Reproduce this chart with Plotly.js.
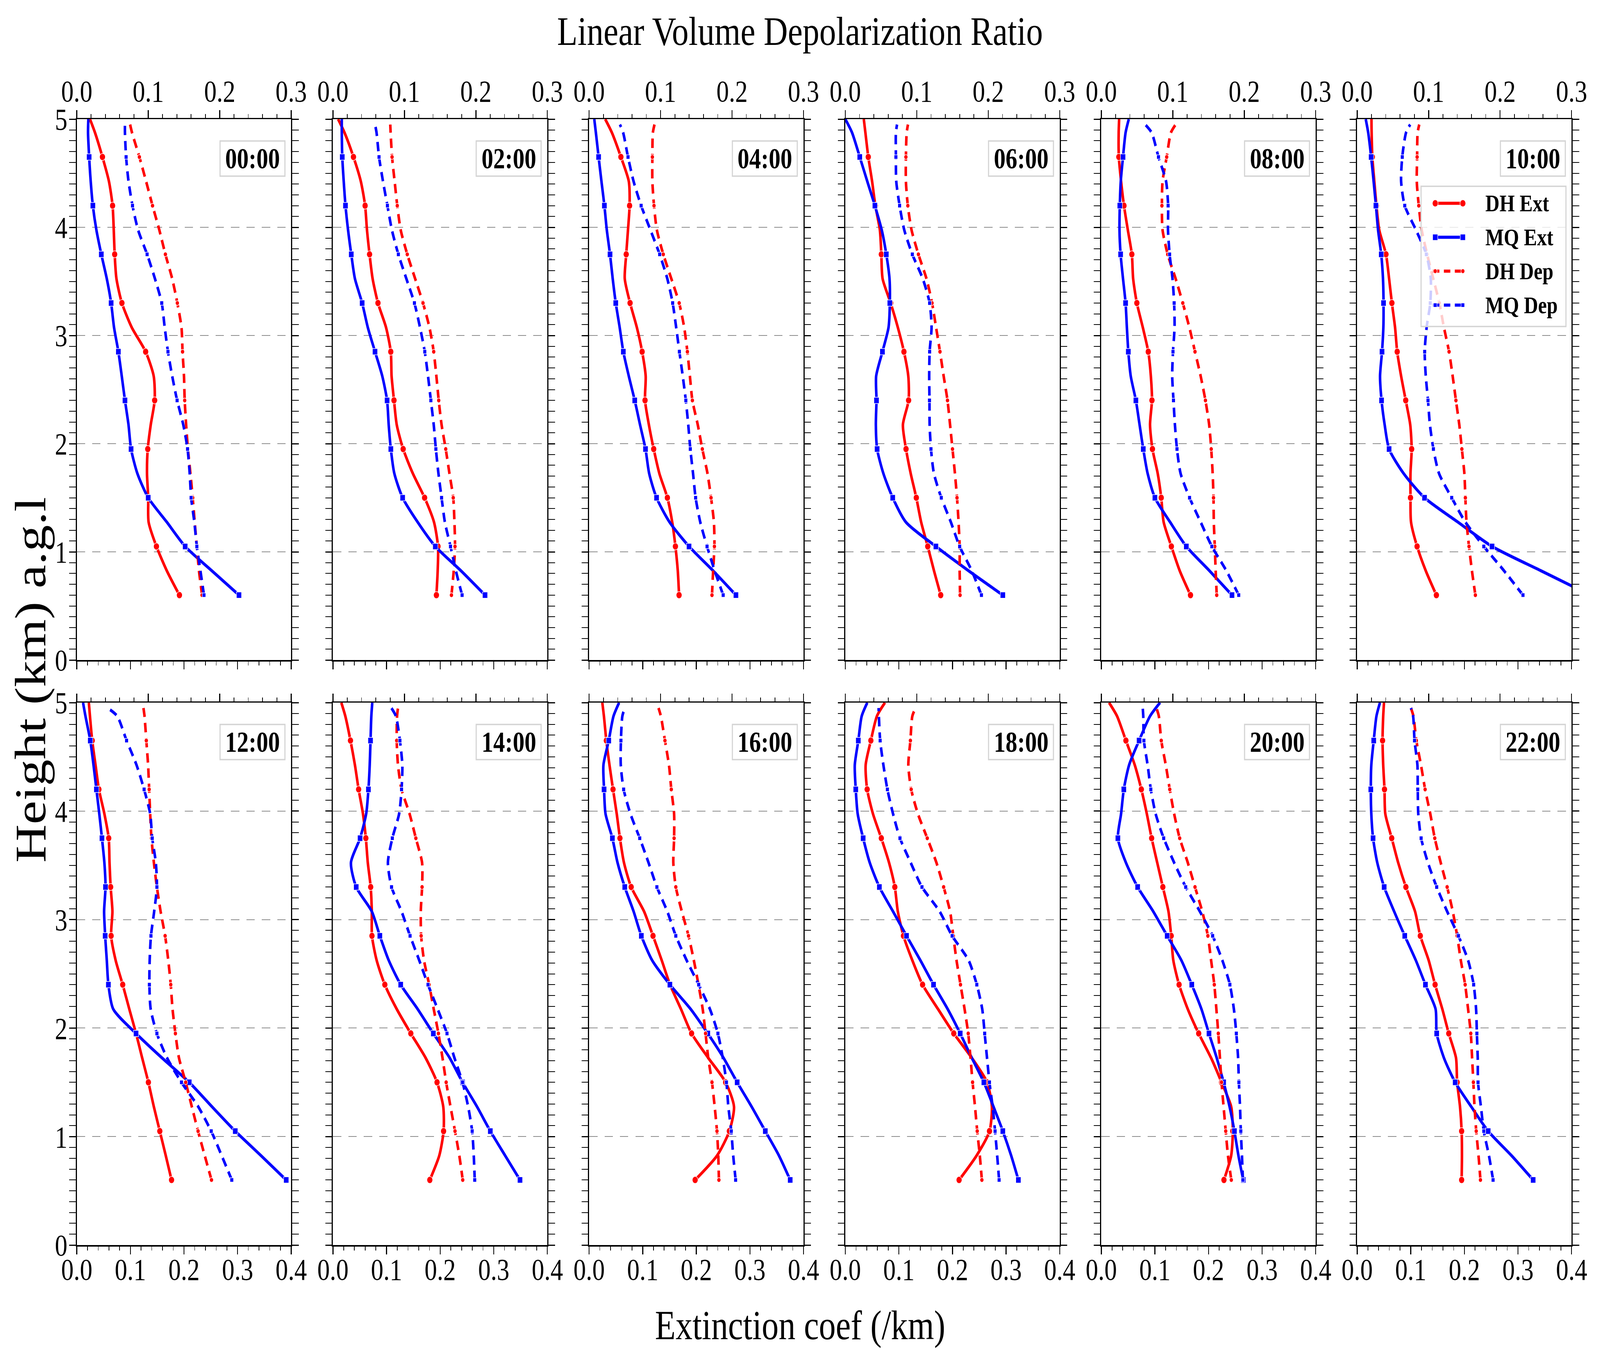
<!DOCTYPE html>
<html><head><meta charset="utf-8">
<script src="https://cdn.plot.ly/plotly-3.0.1.min.js"></script>
<style>html,body{margin:0;padding:0;background:#fff;overflow:hidden}#wrap{overflow:hidden;position:relative}#chart{width:4981px;height:3490px;transform-origin:0 0;position:absolute;left:0;top:0}</style>
</head><body><div id="wrap"><div id="chart"></div></div>
<script>
// ---------------- DATA ----------------
const times = ['00:00','02:00','04:00','06:00','08:00','10:00','12:00','14:00','16:00','18:00','20:00','22:00'];
const heightsExt = [0.6,0.825,1.05,1.275,1.5,1.725,1.95,2.175,2.4,2.625,2.85,3.075,3.3,3.525,3.75,3.975,4.2,4.425,4.65,4.875,5.0];
const heightsDep = [0.6,0.825,1.05,1.275,1.5,1.725,1.95,2.175,2.4,2.625,2.85,3.075,3.3,3.525,3.75,3.975,4.2,4.425,4.65,4.875,4.95];
const seriesNames = ['DH Ext','MQ Ext','DH Dep','MQ Dep'];

// DH extinction coefficient (/km), one row per time
const dhExt = [
 [0.1915,0.168,0.1486,0.134,0.1333,0.131,0.1324,0.138,0.1453,0.1435,0.1285,0.1025,0.0842,0.074,0.0707,0.069,0.0668,0.060,0.0479,0.034,0.0246],
 [0.193,0.1954,0.196,0.1885,0.171,0.149,0.131,0.119,0.1139,0.1094,0.1079,0.099,0.084,0.074,0.0683,0.0635,0.060,0.052,0.0383,0.0216,0.0096],
 [0.1678,0.1654,0.161,0.155,0.146,0.131,0.1205,0.1115,0.1043,0.1055,0.0989,0.089,0.0764,0.0665,0.0692,0.0725,0.0755,0.074,0.0593,0.0425,0.030],
 [0.178,0.1655,0.1538,0.1415,0.1325,0.122,0.1133,0.1075,0.1181,0.1175,0.1094,0.098,0.0846,0.0696,0.0672,0.0645,0.0561,0.050,0.0429,0.0375,0.0345],
 [0.1664,0.1463,0.1307,0.1163,0.1118,0.1052,0.0954,0.0909,0.0945,0.0924,0.0876,0.0774,0.0663,0.0594,0.057,0.0495,0.0423,0.0369,0.0327,0.0324,0.0333],
 [0.1478,0.128,0.1118,0.1005,0.0995,0.0995,0.1017,0.099,0.0906,0.082,0.0747,0.0707,0.0648,0.0596,0.0538,0.0412,0.036,0.032,0.0283,0.027,0.0267],
 [0.1768,0.166,0.1549,0.1438,0.1336,0.122,0.1106,0.098,0.0857,0.0725,0.0641,0.0665,0.0632,0.0611,0.0596,0.0515,0.0413,0.035,0.0288,0.0246,0.0225],
 [0.1807,0.1984,0.2064,0.2058,0.1942,0.1729,0.1453,0.119,0.0968,0.0815,0.0728,0.0725,0.0704,0.065,0.0614,0.056,0.0479,0.041,0.0327,0.0231,0.0156],
 [0.1978,0.2388,0.2616,0.2703,0.2547,0.2223,0.1912,0.1714,0.151,0.1354,0.1192,0.1025,0.0785,0.065,0.0575,0.0515,0.0446,0.038,0.0321,0.0276,0.0246],
 [0.2123,0.245,0.269,0.2735,0.2645,0.236,0.2024,0.173,0.1442,0.125,0.1085,0.098,0.0924,0.0816,0.0672,0.0516,0.0408,0.038,0.0477,0.059,0.0741],
 [0.2288,0.2423,0.2453,0.2423,0.2243,0.2048,0.1817,0.1613,0.1451,0.1343,0.1304,0.1253,0.1148,0.1043,0.0939,0.0849,0.0747,0.0624,0.0459,0.0294,0.0144],
 [0.1949,0.1955,0.1949,0.1919,0.1865,0.1844,0.1709,0.1589,0.1454,0.1334,0.1178,0.108,0.0909,0.0765,0.0645,0.0525,0.051,0.0486,0.0474,0.0486,0.0501]
];
// MQ extinction coefficient (/km)
const mqExt = [
 [0.3026,0.252,0.2022,0.168,0.1333,0.113,0.1013,0.0965,0.0899,0.0839,0.0776,0.0695,0.0641,0.056,0.0458,0.0366,0.030,0.026,0.0231,0.021,0.0216],
 [0.2837,0.2388,0.191,0.158,0.130,0.1145,0.108,0.104,0.101,0.092,0.0785,0.065,0.0545,0.041,0.0342,0.0282,0.0234,0.0201,0.0174,0.0165,0.0165],
 [0.2739,0.2313,0.1864,0.150,0.1258,0.112,0.1052,0.095,0.0851,0.074,0.0638,0.057,0.0497,0.044,0.039,0.033,0.0285,0.023,0.0177,0.0126,0.0096],
 [0.2939,0.230,0.169,0.113,0.0885,0.071,0.0594,0.057,0.0582,0.0576,0.0693,0.0807,0.0831,0.0825,0.0765,0.068,0.0552,0.041,0.027,0.0126,0.0],
 [0.2438,0.2018,0.1586,0.1283,0.100,0.0864,0.0783,0.0714,0.0645,0.0549,0.0504,0.0477,0.0453,0.0405,0.036,0.0339,0.0345,0.0363,0.0405,0.0453,0.0513],
 [0.435,0.343,0.2516,0.188,0.1257,0.0866,0.0596,0.0513,0.0455,0.0427,0.0464,0.0489,0.0492,0.0482,0.0449,0.039,0.035,0.0307,0.0261,0.0206,0.016],
 [0.3907,0.3436,0.2957,0.2523,0.2098,0.159,0.1106,0.068,0.059,0.056,0.053,0.051,0.0536,0.0515,0.047,0.042,0.0366,0.0312,0.0252,0.0162,0.0117],
 [0.349,0.3212,0.2936,0.2688,0.2418,0.2178,0.1873,0.158,0.1264,0.104,0.0875,0.0725,0.0434,0.0336,0.0506,0.062,0.0662,0.0686,0.0701,0.0716,0.0734],
 [0.3751,0.3541,0.3287,0.3032,0.2762,0.2508,0.2214,0.1894,0.1507,0.1175,0.0974,0.083,0.0665,0.053,0.0434,0.0306,0.0279,0.0267,0.0366,0.0455,0.056],
 [0.3229,0.3094,0.2939,0.2765,0.2585,0.236,0.2144,0.191,0.1646,0.140,0.1142,0.089,0.0636,0.0456,0.0333,0.0231,0.0195,0.0177,0.0243,0.0306,0.0411],
 [0.2648,0.2558,0.2483,0.2393,0.2282,0.2153,0.2009,0.1868,0.1688,0.1493,0.1229,0.0969,0.0678,0.0459,0.0309,0.0369,0.042,0.0519,0.0705,0.0909,0.1097],
 [0.3283,0.2879,0.2444,0.2129,0.1829,0.1619,0.1484,0.1463,0.1274,0.1094,0.0888,0.069,0.0504,0.0375,0.0297,0.0264,0.0255,0.0264,0.0309,0.036,0.0426]
];
// DH linear volume depolarization ratio
const dhDep = [
 [0.1753,0.171,0.168,0.165,0.1622,0.159,0.1555,0.153,0.151,0.150,0.148,0.1465,0.1407,0.1335,0.124,0.1155,0.106,0.097,0.0876,0.0773,0.0746],
 [0.1658,0.169,0.1708,0.170,0.1683,0.163,0.1578,0.152,0.148,0.1447,0.141,0.135,0.126,0.115,0.104,0.0948,0.090,0.0863,0.0827,0.0807,0.0802],
 [0.1719,0.1735,0.1753,0.1746,0.1706,0.1656,0.1584,0.152,0.1445,0.141,0.1375,0.133,0.126,0.115,0.1038,0.0948,0.0908,0.0885,0.0885,0.0892,0.0915],
 [0.1606,0.160,0.160,0.1585,0.1563,0.1534,0.150,0.1466,0.143,0.1376,0.1325,0.127,0.1214,0.1136,0.1023,0.0927,0.0875,0.0848,0.0848,0.0859,0.0877],
 [0.1615,0.160,0.1588,0.1574,0.157,0.1558,0.1538,0.1509,0.1457,0.139,0.1311,0.1232,0.114,0.104,0.0929,0.0857,0.0848,0.0857,0.0915,0.0974,0.104],
 [0.1654,0.1606,0.1565,0.153,0.1514,0.150,0.1465,0.1429,0.1382,0.1336,0.1286,0.1214,0.115,0.1065,0.0979,0.0903,0.0862,0.0834,0.0839,0.0846,0.0869],
 [0.1885,0.179,0.1697,0.161,0.1524,0.143,0.138,0.134,0.1315,0.128,0.1236,0.1173,0.1121,0.1079,0.1045,0.1027,0.1013,0.0998,0.0973,0.0948,0.0933],
 [0.1816,0.1768,0.1708,0.1645,0.1584,0.1533,0.1476,0.141,0.1346,0.1274,0.1234,0.1229,0.1247,0.1247,0.116,0.1072,0.096,0.091,0.0892,0.0897,0.091],
 [0.1816,0.1807,0.1789,0.1757,0.1719,0.1667,0.1629,0.1589,0.153,0.1465,0.1391,0.1297,0.1213,0.1178,0.1189,0.1189,0.115,0.1117,0.1061,0.1004,0.0971],
 [0.1911,0.1882,0.1846,0.1815,0.1781,0.1752,0.172,0.1669,0.1612,0.1556,0.1511,0.1466,0.1376,0.1275,0.1147,0.1016,0.0922,0.0882,0.0911,0.0938,0.0983],
 [0.1819,0.1772,0.1741,0.1711,0.1682,0.166,0.1637,0.161,0.1581,0.1536,0.1491,0.1412,0.1311,0.121,0.1097,0.1019,0.0958,0.0902,0.0839,0.0805,0.0771],
 [0.1725,0.1698,0.1666,0.1642,0.1626,0.1608,0.159,0.1552,0.1511,0.145,0.1399,0.1338,0.1259,0.1169,0.1086,0.1023,0.0951,0.0893,0.0828,0.0787,0.0753]
];
// MQ linear volume depolarization ratio
const mqDep = [
 [0.178,0.173,0.168,0.1645,0.160,0.158,0.155,0.149,0.1404,0.1335,0.1276,0.123,0.1189,0.1094,0.0984,0.0858,0.078,0.0724,0.069,0.0674,0.0674],
 [0.1807,0.172,0.1645,0.1566,0.152,0.1476,0.144,0.141,0.137,0.133,0.1285,0.1218,0.114,0.1027,0.0915,0.0825,0.0762,0.070,0.0645,0.061,0.0589],
 [0.1876,0.1757,0.165,0.1555,0.149,0.1454,0.1416,0.1387,0.1353,0.131,0.1263,0.1218,0.1169,0.1094,0.0987,0.0858,0.0728,0.0622,0.0544,0.0476,0.0431],
 [0.1905,0.177,0.160,0.1477,0.1343,0.124,0.1199,0.118,0.1178,0.1174,0.118,0.1207,0.118,0.1084,0.0938,0.0825,0.076,0.0713,0.0708,0.0708,0.0724],
 [0.1923,0.175,0.1547,0.139,0.1235,0.1109,0.1059,0.103,0.101,0.0992,0.1003,0.1025,0.1019,0.0996,0.0956,0.0933,0.0935,0.0906,0.080,0.0704,0.0614],
 [0.232,0.2055,0.1772,0.1514,0.1323,0.1145,0.1067,0.1018,0.0991,0.096,0.0945,0.0972,0.1023,0.103,0.0968,0.0823,0.0666,0.0615,0.0631,0.0684,0.0742],
 [0.2169,0.2027,0.1881,0.170,0.1465,0.1263,0.1121,0.1034,0.1016,0.102,0.1038,0.1083,0.1121,0.1106,0.1056,0.1027,0.0942,0.0836,0.0697,0.0566,0.0431],
 [0.1984,0.197,0.1948,0.1892,0.1813,0.170,0.1596,0.1465,0.133,0.1207,0.1079,0.096,0.082,0.0769,0.0831,0.0926,0.096,0.0971,0.0937,0.0881,0.0818],
 [0.205,0.2016,0.1989,0.1948,0.1921,0.187,0.1802,0.169,0.1533,0.1364,0.1213,0.1094,0.0948,0.0831,0.0708,0.0578,0.0483,0.0443,0.0445,0.0465,0.0499],
 [0.2152,0.2125,0.2096,0.2062,0.2017,0.1983,0.195,0.1916,0.184,0.1725,0.1495,0.132,0.1073,0.0915,0.0765,0.0668,0.0589,0.0533,0.0488,0.047,0.0466],
 [0.1981,0.1968,0.1952,0.1941,0.1925,0.1914,0.1889,0.1855,0.1799,0.1693,0.1558,0.1379,0.1181,0.1019,0.0873,0.076,0.0693,0.0648,0.0596,0.0587,0.058],
 [0.1902,0.1844,0.1772,0.1732,0.1691,0.1687,0.1675,0.1664,0.163,0.1552,0.1417,0.1259,0.1113,0.099,0.0895,0.0855,0.0848,0.0843,0.0803,0.0783,0.0753]
];
const extTickVals = [0,0.1,0.2,0.3,0.4];
const extTickText = ['0.0','0.1','0.2','0.3','0.4'];
const depTickVals = [0,0.1,0.2,0.3];
const depTickText = ['0.0','0.1','0.2','0.3'];
const yTickVals = [0,1,2,3,4,5];
const yTickText = ['0','1','2','3','4','5'];

// ---------------- STYLE / LAYOUT ----------------
const W = 4981, H = 3490;
// map the 4981x3490 design onto the whole CSS viewport the window provides
const vw = document.documentElement.clientWidth || window.innerWidth || W;
const vh = document.documentElement.clientHeight || window.innerHeight || H;
const KX = vw / W, KY = vh / H;
const wrap = document.getElementById('wrap');
wrap.style.width = vw + 'px';
wrap.style.height = vh + 'px';
document.getElementById('chart').style.transform = 'scale(' + KX + ',' + KY + ')';

const FONT = 'Liberation Serif, Times New Roman, serif';
const RED = '#ff0000', BLUE = '#0000ff';
const colLeft = [239, 1036.5, 1834, 2631.5, 3428.5, 4225];
const panelW = 667.5;
const rowTop = [305, 1799], rowBot = [1690, 3188];
const DASH = '24px,15px';
const LW = 8;
const styles = [
  {color: RED, dash: 'solid', symbol: 'circle', size: 18},
  {color: BLUE, dash: 'solid', symbol: 'square', size: 16},
  {color: RED, dash: DASH, symbol: 'circle', size: 12},
  {color: BLUE, dash: DASH, symbol: 'square', size: 11}
];
const seriesData = [dhExt, mqExt, dhDep, mqDep];

const minorExt = []; for (let k = 0; k <= 20; k++) minorExt.push(+(k * 0.02).toFixed(3));
const minorDep = []; for (let k = 0; k <= 15; k++) minorDep.push(+(k * 0.02).toFixed(3));
const minorY = []; for (let k = 0; k <= 50; k++) minorY.push(+(k * 0.1).toFixed(2));

const traces = [];
const layout = {
  width: W, height: H,
  margin: {l: 0, r: 0, t: 0, b: 0},
  paper_bgcolor: '#ffffff', plot_bgcolor: '#ffffff',
  showlegend: false,
  font: {family: FONT, color: '#000'},
  title: {text: 'Linear Volume Depolarization Ratio', font: {family: FONT, size: 104, color: '#000'},
          x: 0.5, xanchor: 'center', xref: 'paper', y: 1 - 79 / H, yanchor: 'middle', yref: 'paper'},
  annotations: [], shapes: []
};

const axisCommon = {
  showline: true, linecolor: '#000', linewidth: 3.5,
  ticks: 'outside', ticklen: 20, tickwidth: 3, tickcolor: '#000',
  tickfont: {family: FONT, size: 78, color: '#000'},
  zeroline: false, fixedrange: true
};

for (let p = 0; p < 12; p++) {
  const row = Math.floor(p / 6), col = p % 6;
  const xb = 2 * p + 1, xt = 2 * p + 2, yi = p + 1;
  const xbName = 'xaxis' + (xb === 1 ? '' : xb), xtName = 'xaxis' + xt, yName = 'yaxis' + (yi === 1 ? '' : yi);
  const xbRef = 'x' + (xb === 1 ? '' : xb), xtRef = 'x' + xt, yRef = 'y' + (yi === 1 ? '' : yi);
  const dom = [colLeft[col] / W, (colLeft[col] + panelW) / W];
  const ydom = [1 - rowBot[row] / H, 1 - rowTop[row] / H];

  layout[xbName] = Object.assign({}, axisCommon, {
    domain: dom, range: [0, 0.4], anchor: yRef, side: 'bottom',
    tickmode: 'array', tickvals: extTickVals, ticktext: extTickText,
    showticklabels: row === 1, showgrid: false, ticklabelstandoff: -28,
    minor: {tickmode: 'array', tickvals: minorExt, ticks: 'outside', ticklen: 10, tickwidth: 2, tickcolor: '#000', showgrid: false}
  });
  layout[xtName] = Object.assign({}, axisCommon, {
    overlaying: xbRef, range: [0, 0.3], anchor: yRef, side: 'top',
    tickmode: 'array', tickvals: depTickVals, ticktext: depTickText,
    showticklabels: row === 0, showgrid: false, ticklabelstandoff: -10,
    minor: {tickmode: 'array', tickvals: minorDep, ticks: 'outside', ticklen: 10, tickwidth: 2, tickcolor: '#000', showgrid: false}
  });
  layout[yName] = Object.assign({}, axisCommon, {
    domain: ydom, range: [0, 5], anchor: xbRef, side: 'left', mirror: 'allticks',
    tickmode: 'array', tickvals: yTickVals, ticktext: yTickText,
    showticklabels: col === 0, ticklabelstandoff: -10,
    showgrid: true, gridcolor: '#8c8c8c', gridwidth: 2, griddash: '26px,22px',
    minor: {tickmode: 'array', tickvals: minorY, ticks: 'outside', ticklen: 10, tickwidth: 2, tickcolor: '#000', showgrid: false}
  });

  for (let s = 0; s < 4; s++) {
    const vals = seriesData[s][p];
    const hs = s < 2 ? heightsExt : heightsDep;
    const st = styles[s];
    const xr = s < 2 ? xbRef : xtRef;
    traces.push({
      x: vals, y: hs, xaxis: xr, yaxis: yRef, mode: 'lines', name: seriesNames[s],
      line: {color: st.color, width: LW, dash: st.dash, shape: 'spline', smoothing: 0.7},
      hoverinfo: 'skip', showlegend: false
    });
    const mx = [], my = [];
    for (let i = 0; i <= 18; i += 2) { mx.push(vals[i]); my.push(hs[i]); }
    traces.push({
      x: mx, y: my, xaxis: xr, yaxis: yRef, mode: 'markers', name: seriesNames[s],
      marker: {symbol: st.symbol, size: st.size, color: st.color, line: {color: '#ffffff', width: 1.5}},
      cliponaxis: true, hoverinfo: 'skip', showlegend: false
    });
  }

  // time label box
  const rowH = rowBot[row] - rowTop[row];
  layout.shapes.push({
    type: 'rect', xref: xbRef + ' domain', yref: yRef + ' domain',
    x0: 1 - (19.5 + 202) / panelW, x1: 1 - 19.5 / panelW,
    y0: 1 - 146 / rowH, y1: 1 - 56 / rowH,
    line: {color: '#d4d4d4', width: 3.5}, fillcolor: 'rgba(255,255,255,0.8)', layer: 'above'
  });
  layout.annotations.push({
    text: times[p], xref: xbRef + ' domain', yref: yRef + ' domain',
    x: 1 - (19.5 + 101) / panelW, y: 1 - 101 / rowH, xanchor: 'center', yanchor: 'middle',
    showarrow: false, font: {family: FONT, size: 73, weight: 'bold', color: '#000'}
  });
}

// axis titles
layout.annotations.push({
  text: 'Extinction coef (/km)', xref: 'paper', yref: 'paper', x: 2491 / W, y: 1 - 3393 / H,
  xanchor: 'center', yanchor: 'middle', showarrow: false, font: {family: FONT, size: 105, color: '#000'}
});
layout.annotations.push({
  text: 'Height (km) a.g.l', xref: 'paper', yref: 'paper', x: 95 / W, y: 1 - 1741 / H,
  xanchor: 'center', yanchor: 'middle', textangle: -90, showarrow: false,
  font: {family: FONT, size: 136, color: '#000'}
});

// legend (inside 10:00 panel)
const px = v => v / W, py = v => 1 - v / H;
layout.shapes.push({
  type: 'rect', xref: 'paper', yref: 'paper', x0: px(4424), x1: px(4875), y0: py(836), y1: py(477),
  line: {color: '#d4d4d4', width: 3.5}, fillcolor: 'rgba(255,255,255,0.8)', layer: 'above'
});
const legRows = [520.6, 607.5, 694.3, 781.2];
for (let s = 0; s < 4; s++) {
  const st = styles[s], yy = legRows[s];
  layout.shapes.push({
    type: 'line', xref: 'paper', yref: 'paper', x0: px(4461), x1: px(4561), y0: py(yy), y1: py(yy),
    line: {color: st.color, width: LW, dash: s < 2 ? 'solid' : '20px,14px'}, layer: 'above'
  });
  [4468, 4554].forEach(cx => {
    const r = st.size / 2;
    layout.shapes.push({
      type: st.symbol === 'circle' ? 'circle' : 'rect', xref: 'paper', yref: 'paper',
      x0: px(cx - r), x1: px(cx + r), y0: py(yy + r), y1: py(yy - r),
      fillcolor: st.color, line: {color: '#ffffff', width: 1.5}, layer: 'above'
    });
  });
  layout.annotations.push({
    text: seriesNames[s], xref: 'paper', yref: 'paper', x: px(4622), y: py(yy),
    xanchor: 'left', yanchor: 'middle', showarrow: false,
    font: {family: FONT, size: 61, weight: 'bold', color: '#000'}
  });
}

Plotly.newPlot('chart', traces, layout, {staticPlot: true, displayModeBar: false});
</script></body></html>
